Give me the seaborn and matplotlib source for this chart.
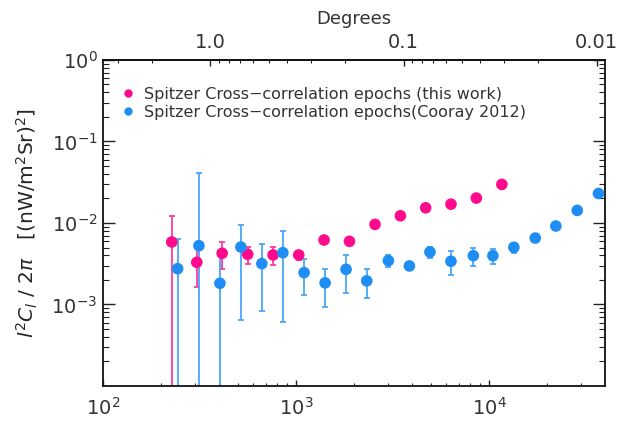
import numpy as np
import pandas as pd
import matplotlib
matplotlib.use("Agg")
import matplotlib.pyplot as plt
from matplotlib.ticker import FixedLocator, NullFormatter, LogLocator
import seaborn as sns

# --- data ---
this_work_ell = [227, 306, 414, 561, 760, 1032, 1396, 1889, 2563, 3468, 4688, 6339, 8577, 11630]
this_work_cl = [5.84e-3, 3.29e-3, 4.25e-3, 4.13e-3, 4.05e-3, 4.05e-3, 6.18e-3, 5.95e-3,
                9.61e-3, 1.225e-2, 1.535e-2, 1.70e-2, 2.02e-2, 2.97e-2]
this_work_err = [6.31e-3, 1.65e-3, 1.54e-3, 1.0e-3, 0.97e-3, 0.5e-3, 0.35e-3, 0.3e-3,
                 0.3e-3, 0.3e-3, 0.3e-3, 0.3e-3, 0.3e-3, 0.3e-3]

cooray_ell = [243.5, 313.8, 403.0, 517.6, 664.6, 853.7, 1100, 1413, 1814, 2322, 3006,
              3861, 4934, 6339, 8276, 10450, 13420, 17320, 22140, 28570, 36810]
cooray_cl = [2.75e-3, 5.26e-3, 1.82e-3, 5.07e-3, 3.17e-3, 4.32e-3, 2.46e-3, 1.84e-3,
             2.70e-3, 1.95e-3, 3.45e-3, 2.97e-3, 4.40e-3, 3.39e-3, 3.97e-3, 3.97e-3,
             5.03e-3, 6.53e-3, 9.17e-3, 1.426e-2, 2.30e-2]
cooray_err = [3.55e-3, 3.52e-2, 2.26e-3, 4.43e-3, 2.33e-3, 3.71e-3, 1.17e-3, 0.9e-3,
              1.33e-3, 0.75e-3, 0.55e-3, 0.3e-3, 0.66e-3, 1.12e-3, 1.02e-3, 0.83e-3,
              0.7e-3, 0.2e-3, 0.2e-3, 0.2e-3, 0.2e-3]

labels = ["Spitzer Cross\u2212correlation epochs (this work)",
          "Spitzer Cross\u2212correlation epochs(Cooray 2012)"]
colors = ["#FF0A8C", "#1E8EF5"]
err_colors = ["#FF3C9E", "#4AA6FA"]

df = pd.concat([
    pd.DataFrame({"ell": this_work_ell, "cl": this_work_cl, "err": this_work_err, "series": labels[0]}),
    pd.DataFrame({"ell": cooray_ell, "cl": cooray_cl, "err": cooray_err, "series": labels[1]}),
], ignore_index=True)

sns.set_theme(style="ticks")
plt.rcParams['font.family'] = ['DejaVu Sans']
plt.rcParams['mathtext.fontset'] = 'dejavusans'

fig = plt.figure(figsize=(6.18, 4.22), dpi=100)
ax = fig.add_axes([0.1667, 0.0853, 0.8123, 0.7727])

# error bars first, drawn through the axes
for name, ecol in zip(labels, err_colors):
    sub = df[df["series"] == name]
    ax.errorbar(sub["ell"], sub["cl"], yerr=sub["err"], fmt="none",
                ecolor=ecol, elinewidth=1.3, capsize=2.5, capthick=1.3, zorder=2)

sns.scatterplot(data=df, x="ell", y="cl", hue="series", palette=dict(zip(labels, colors)),
                s=70, linewidth=0, ax=ax, legend=False, zorder=3)

ax.set_xscale("log")
ax.set_yscale("log")
ax.set_xlim(100, 39800)
ax.set_ylim(1e-4, 1)
ax.set_xlabel("")
ax.set_ylabel(r"$l^2C_l$ / 2$\pi$   [(nW/m$^2$Sr)$^2$]", fontsize=14.5, labelpad=8)

ax.set_yticks([1e-3, 1e-2, 1e-1, 1])
ax.yaxis.set_minor_locator(LogLocator(base=10, subs=np.arange(2, 10)))
ax.yaxis.set_minor_formatter(NullFormatter())
ax.xaxis.set_minor_locator(LogLocator(base=10, subs=np.arange(2, 10)))
ax.xaxis.set_minor_formatter(NullFormatter())

ax.tick_params(axis="y", which="major", direction="in", length=8.5, width=1, right=True,
               labelsize=14, pad=4, colors="#222222", labelcolor="#333333")
ax.tick_params(axis="y", which="minor", direction="in", length=4.3, width=0.8, right=True,
               colors="#222222")
ax.tick_params(axis="x", which="major", direction="in", length=4.3, width=1, top=False,
               labelsize=14, pad=8, colors="#222222", labelcolor="#333333")
ax.tick_params(axis="x", which="minor", direction="in", length=2.2, width=0.8, top=False,
               colors="#222222")
for sp in ax.spines.values():
    sp.set_linewidth(1.3)
    sp.set_color("#111111")

# top axis in degrees
top = ax.secondary_xaxis("top", functions=(lambda l: 360.0 / l, lambda d: 360.0 / d))
top.xaxis.set_major_locator(FixedLocator([1.0, 0.1, 0.01]))
top.set_xticklabels(["1.0", "0.1", "0.01"])
top.xaxis.set_minor_locator(FixedLocator(
    [v * 10.0 ** k for k in (-3, -2, -1, 0) for v in range(2, 10)]))
top.xaxis.set_minor_formatter(NullFormatter())
top.tick_params(axis="x", which="major", direction="in", length=4.3, width=1,
                labelsize=14, pad=6, colors="#222222", labelcolor="#333333")
top.tick_params(axis="x", which="minor", direction="in", length=2.2, width=0.8,
                colors="#222222")
top.set_xlabel("Degrees", fontsize=13, labelpad=6, color="#333333")

# legend with dot markers, no frame
handles = [plt.Line2D([], [], marker="o", linestyle="none", markersize=6,
                      markerfacecolor=c, markeredgewidth=0) for c in colors]
leg = ax.legend(handles, labels, loc="upper left", bbox_to_anchor=(0.025, 0.937),
                frameon=False, fontsize=11.5, handlelength=0.8, handletextpad=0.6,
                labelspacing=0.2, borderaxespad=0)
for t in leg.get_texts():
    t.set_color("#333333")

fig.savefig("out.png", dpi=100)
